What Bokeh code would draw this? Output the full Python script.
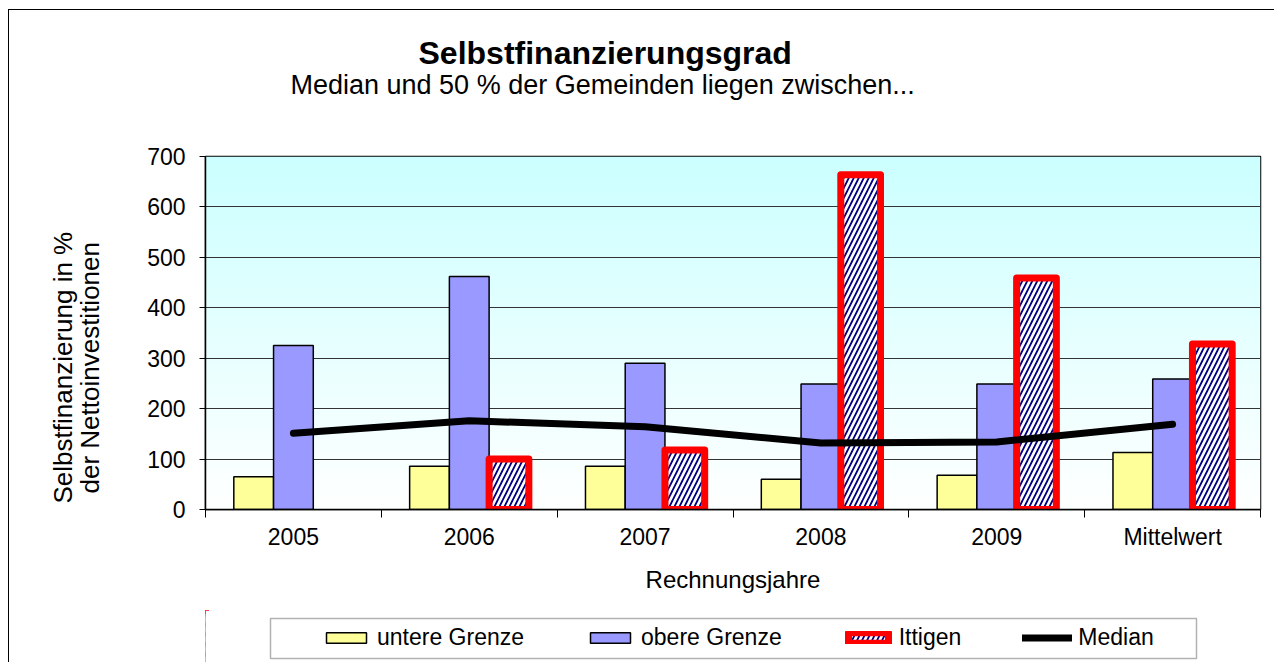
import numpy as np
from bokeh.plotting import figure
from bokeh.layouts import column
from bokeh.models import (Range1d, FixedTicker, Legend, LegendItem,
                          ColumnDataSource, Title, BoxAnnotation)
from bokeh.embed import file_html
from bokeh.resources import INLINE

# ---- data -------------------------------------------------------------
categories = ["2005", "2006", "2007", "2008", "2009", "Mittelwert"]
untere_grenze = [65, 86, 86, 60, 68, 113]
obere_grenze = [325, 462, 290, 249, 249, 259]
ittigen = [float("nan"), 100, 118, 664, 459, 328]
median = [151, 176, 164, 132, 134, 169]
y_ticks = [0, 100, 200, 300, 400, 500, 600, 700]

title_text = "Selbstfinanzierungsgrad"
subtitle_text = "Median und 50 % der Gemeinden liegen zwischen..."
y_label_1 = "Selbstfinanzierung in %"
y_label_2 = "der Nettoinvestitionen"
x_label = "Rechnungsjahre"

FONT = "Liberation Sans"
n = len(categories)
centers = np.arange(n) + 0.5
bw = 0.226

src = ColumnDataSource(dict(
    x_u=centers - bw, x_o=centers, x_i=centers + bw, x_m=centers,
    untere=untere_grenze, obere=obere_grenze, ittigen=ittigen, median=median,
))

U_STYLE = dict(fill_color="#FFFF99", line_color="black", line_width=1.5)
O_STYLE = dict(fill_color="#9999FF", line_color="black", line_width=1.5)
I_STYLE = dict(fill_color="white", line_color="#FF0000", line_width=7,
               line_join="round", hatch_pattern="/", hatch_color="#000080",
               hatch_scale=10, hatch_weight=1.8)
M_STYLE = dict(line_color="black", line_width=7, line_cap="round",
               line_join="round")


def spacer(size):
    return Title(text=" ", text_font_size="1px", standoff=size)


# ---- main chart -------------------------------------------------------
p = figure(width=1265, height=600,
           x_range=Range1d(0, n), y_range=Range1d(0, 700),
           output_backend="svg", toolbar_location=None, title=None,
           min_border_left=196, min_border_right=14,
           min_border_top=146, min_border_bottom=101)
p.background_fill_color = "white"
p.border_fill_color = "white"
p.outline_line_color = "black"
p.outline_line_width = 1.5

# gradient background of plot area
N = 256
grad = np.zeros((N, 1), dtype=np.uint32)
view = grad.view(dtype=np.uint8).reshape((N, 1, 4))
t = np.linspace(0, 1, N)
view[:, 0, 0] = (255 - 51 * t).astype(np.uint8)
view[:, 0, 1] = 255
view[:, 0, 2] = 255
view[:, 0, 3] = 255
p.image_rgba(image=[grad], x=0, y=0, dw=n, dh=700, level="image")

p.vbar(x="x_u", top="untere", width=bw, source=src, **U_STYLE)
p.vbar(x="x_o", top="obere", width=bw, source=src, **O_STYLE)
p.vbar(x="x_i", top="ittigen", width=bw, source=src, **I_STYLE)
p.line(x="x_m", y="median", source=src, **M_STYLE)

# y axis
ya = p.yaxis[0]
ya.ticker = FixedTicker(ticks=y_ticks)
ya.axis_line_color = "black"
ya.axis_line_width = 1.5
ya.major_tick_out = 6
ya.major_tick_in = 0
ya.major_tick_line_color = "black"
ya.minor_tick_line_color = None
ya.major_label_standoff = 14
ya.major_label_text_font = FONT
ya.major_label_text_font_size = "23px"
ya.major_label_text_color = "black"

# y axis title in two lines (first added is nearest to the plot)
p.add_layout(spacer(37), "left")
p.add_layout(Title(text=y_label_2, align="left", offset=16, standoff=0,
                   text_font=FONT, text_font_size="26px",
                   text_font_style="normal", text_color="black"), "left")
p.add_layout(Title(text=y_label_1, align="left", offset=6, standoff=-10,
                   text_font=FONT, text_font_size="26px",
                   text_font_style="normal", text_color="black"), "left")

# x axis
xa = p.xaxis[0]
xa.ticker = FixedTicker(ticks=[float(c) for c in centers],
                        minor_ticks=list(range(0, n + 1)))
xa.major_label_overrides = {float(c): lab for c, lab in zip(centers, categories)}
xa.axis_line_color = "black"
xa.axis_line_width = 1.5
xa.major_tick_line_color = None
xa.major_tick_out = 0
xa.major_tick_in = 0
xa.minor_tick_line_color = "black"
xa.minor_tick_out = 8
xa.minor_tick_in = 0
xa.major_label_standoff = 6
xa.major_label_text_font = FONT
xa.major_label_text_font_size = "23px"
xa.major_label_text_color = "black"
xa.axis_label = x_label
xa.axis_label_standoff = 13
xa.axis_label_text_font = FONT
xa.axis_label_text_font_size = "24px"
xa.axis_label_text_font_style = "normal"
xa.axis_label_text_color = "black"

p.xgrid.visible = False
p.ygrid.ticker = FixedTicker(ticks=y_ticks)
p.ygrid.grid_line_color = "#333333"
p.ygrid.grid_line_width = 1

# titles (first added is nearest to the plot)
p.add_layout(spacer(54), "above")
p.add_layout(Title(text=subtitle_text, align="left", offset=85,
                   standoff=0, text_font=FONT, text_font_size="27px",
                   text_font_style="normal", text_color="black"), "above")
p.add_layout(Title(text=title_text, align="left", offset=213,
                   standoff=-6, text_font=FONT, text_font_size="32px",
                   text_font_style="bold", text_color="black"), "above")

# ---- legend strip -----------------------------------------------------
# legend proxies share the chart's data and styles; they lie outside the
# visible ranges and are masked by a white box so only the legend shows
q = figure(width=1265, height=52, x_range=Range1d(1000, 2055),
           y_range=Range1d(662, 610), x_axis_type=None, y_axis_type=None,
           output_backend="svg", toolbar_location=None, title=None,
           min_border_left=196, min_border_right=14,
           min_border_top=0, min_border_bottom=0)
q.background_fill_color = "white"
q.border_fill_color = "white"
q.outline_line_color = None
q.grid.visible = False
l_u = q.vbar(x="x_u", top="untere", width=bw, source=src, **U_STYLE)
l_o = q.vbar(x="x_o", top="obere", width=bw, source=src, **O_STYLE)
l_i = q.vbar(x="x_i", top="ittigen", width=bw, source=src, **I_STYLE)
l_m = q.line(x="x_m", y="median", source=src, **M_STYLE)

q.add_layout(BoxAnnotation(left=1000, right=2055, top=610, bottom=662,
                           fill_color="white", fill_alpha=1,
                           line_color=None))
q.add_layout(BoxAnnotation(left=1065, right=1991, top=618, bottom=658,
                           fill_color=None, fill_alpha=0,
                           line_color="black", line_width=1.5))

legend = Legend(items=[
    LegendItem(label="untere Grenze", renderers=[l_u]),
    LegendItem(label="obere Grenze", renderers=[l_o]),
    LegendItem(label="Ittigen", renderers=[l_i]),
    LegendItem(label="Median", renderers=[l_m]),
], orientation="horizontal", location=(116, 11))
legend.border_line_color = None
legend.background_fill_alpha = 0
legend.padding = 0
legend.margin = 0
legend.spacing = 61
legend.label_standoff = 6
legend.glyph_width = 50
legend.glyph_height = 13
legend.label_text_font = FONT
legend.label_text_font_size = "23px"
legend.label_text_color = "black"
q.add_layout(legend, "center")

layout = column(p, q, spacing=0,
                styles={"margin-left": "8px", "margin-top": "9px",
                        "border-left": "1px solid black",
                        "border-top": "1px solid black"})

open("out.html", "w").write(file_html(layout, INLINE))
